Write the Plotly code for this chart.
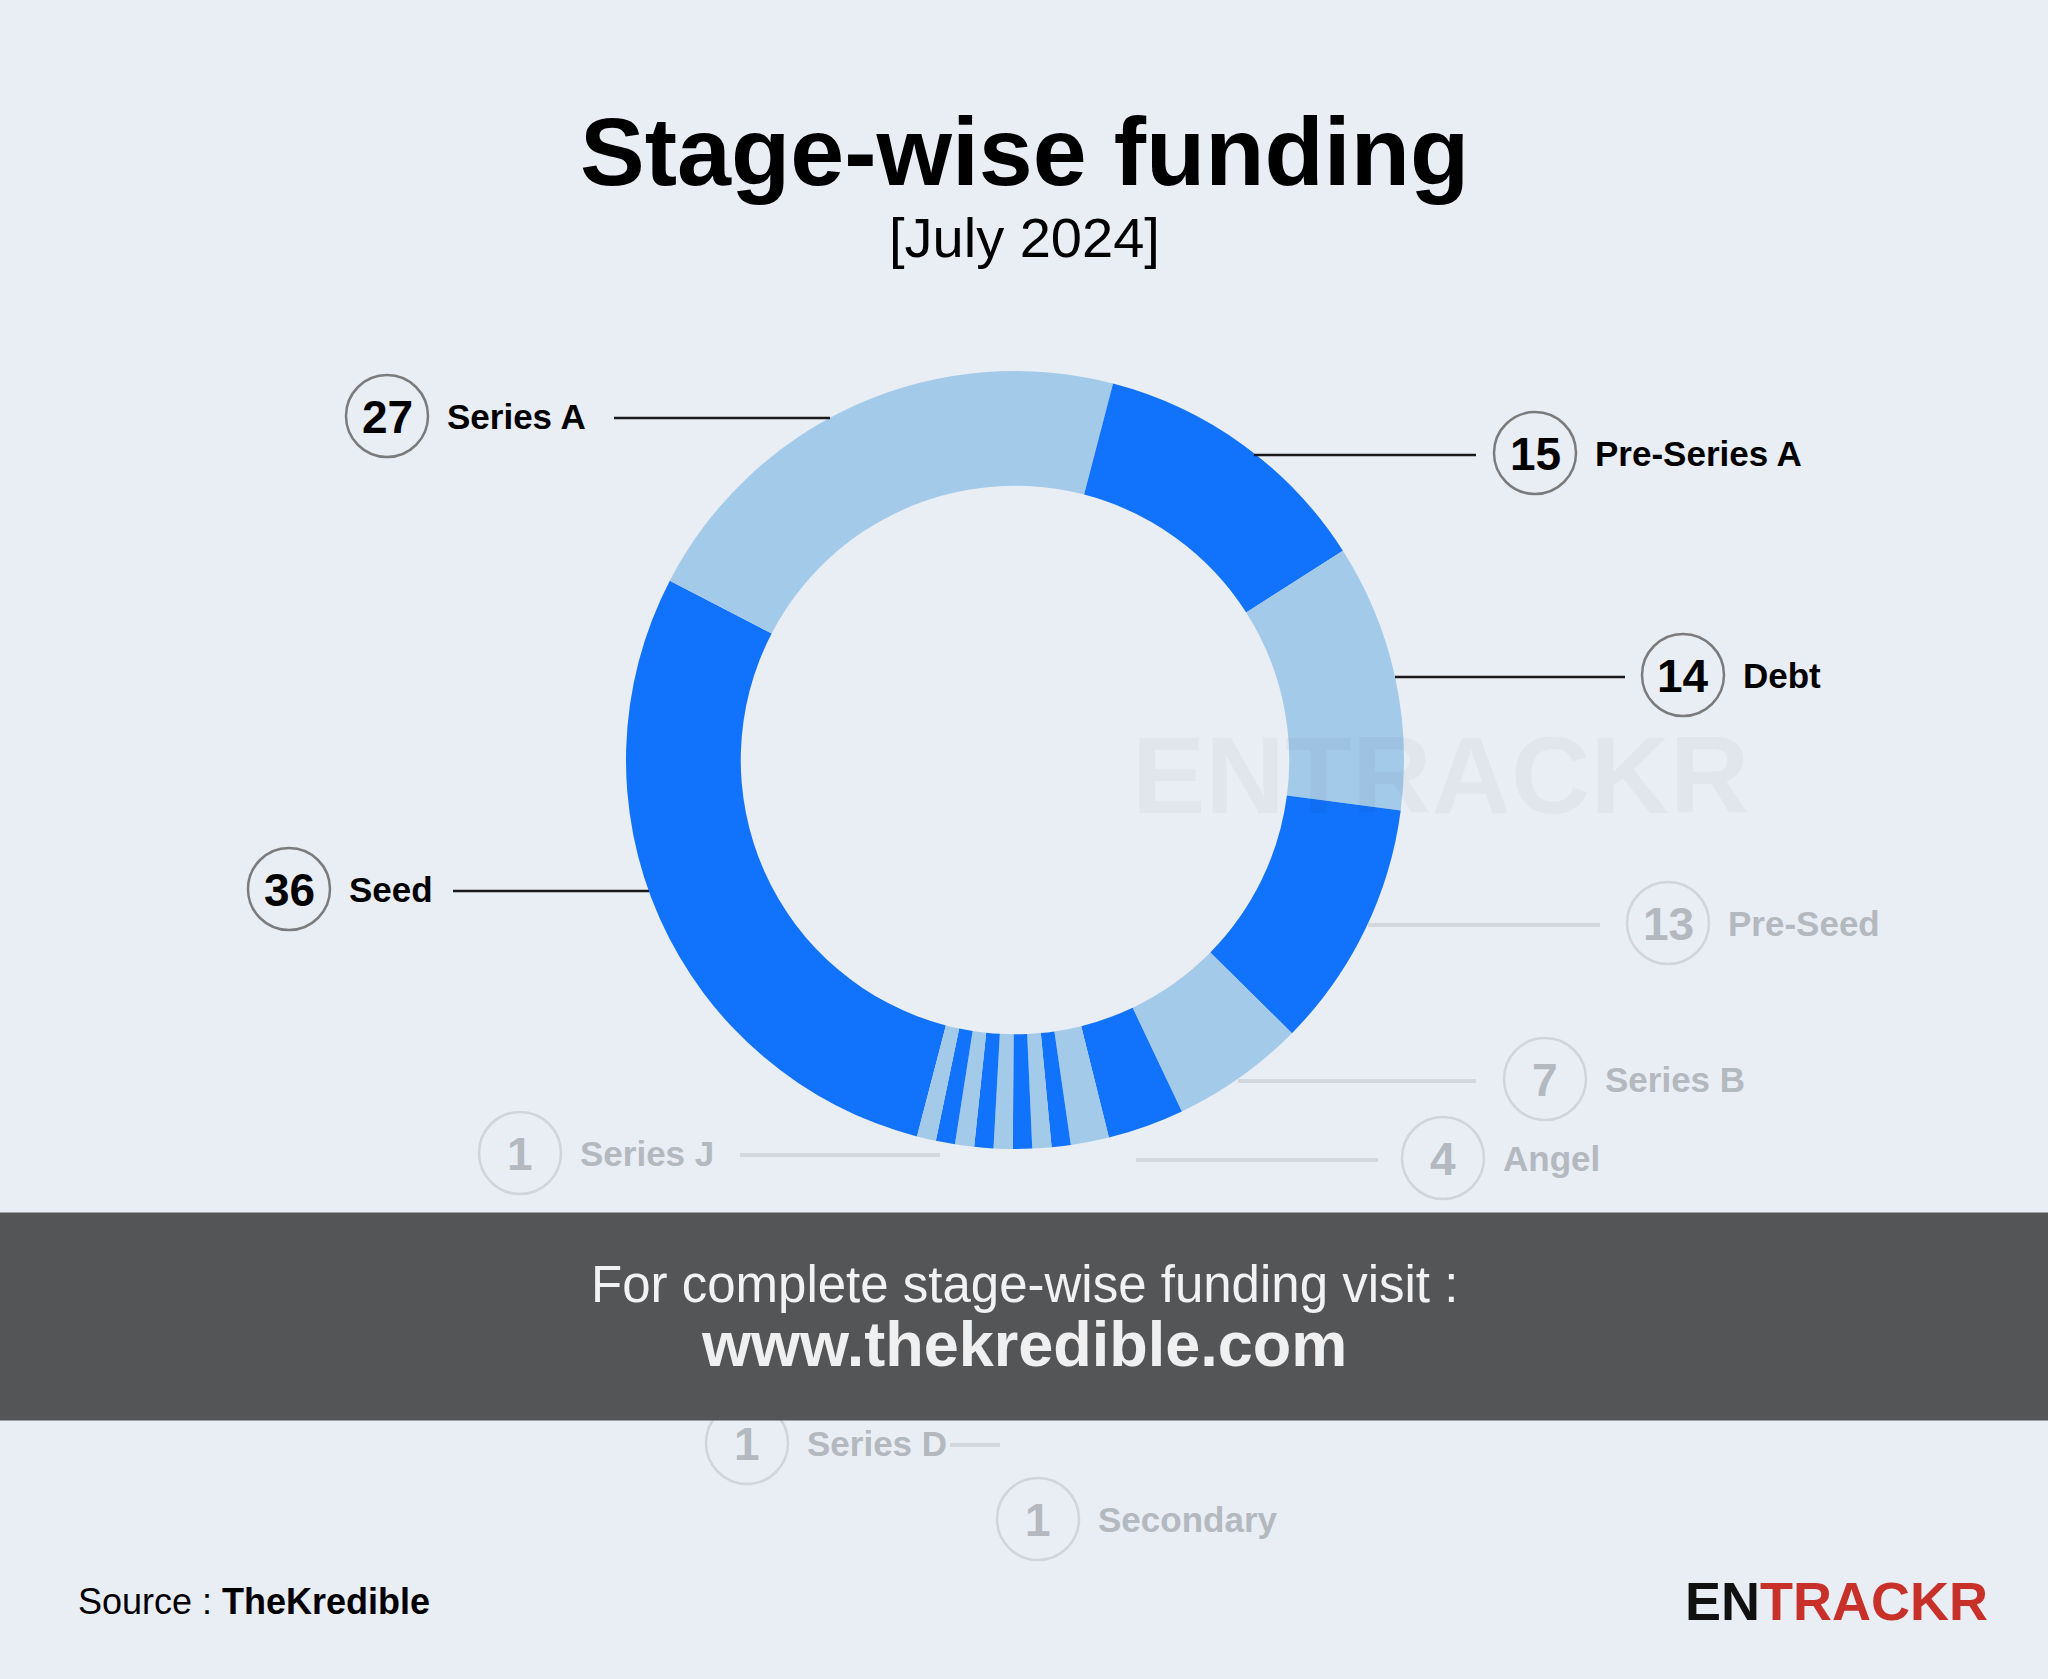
import plotly.graph_objects as go

W, H = 2048, 1679

# ---- data ----
stages = ["Seed", "Series A", "Pre-Series A", "Debt", "Pre-Seed", "Series B", "Angel",
          "Series C", "Pre-Series C", "Pre-Series B", "Secondary", "Series D",
          "Series E", "Series F", "Series H", "Series J"]
deals = [36, 27, 15, 14, 13, 7, 4, 2, 1, 1, 1, 1, 1, 1, 1, 1]

DARK = "#1172FB"
LIGHT = "#A4CAEA"
colors = [DARK if i % 2 == 0 else LIGHT for i in range(len(stages))]

BG = "#E9EDF4"
FONT = "Liberation Sans, Arial, sans-serif"

# donut geometry (pixels)
CX, CY, R = 1015, 760, 389


def px(x):
    return x / W


def py(y):
    return 1 - y / H


fig = go.Figure()
fig.add_trace(go.Pie(
    labels=stages, values=deals, sort=False, direction="clockwise",
    rotation=194.6, hole=0.705,
    marker=dict(colors=colors, line=dict(width=0)),
    textinfo="none", hoverinfo="label+value", showlegend=False,
    domain=dict(x=[px(CX - R), px(CX + R)], y=[py(CY + R), py(CY - R)]),
))

shapes = []
annotations = []

# watermark
annotations.append(dict(x=px(1440), y=py(774), xref="paper", yref="paper",
                        text="<b>ENTRACKR</b>", showarrow=False,
                        font=dict(family=FONT, size=110, color="rgba(0,0,0,0.03)"),
                        xanchor="center", yanchor="middle"))

# label layout: (stage, circle x, y, side, line x0, line x1, faint)
label_layout = [
    ("Series A", 387, 416, "left", 614, 830, False),
    ("Pre-Series A", 1535, 453, "right", 1254, 1476, False),
    ("Debt", 1683, 675, "right", 1395, 1625, False),
    ("Seed", 289, 889, "left", 453, 649, False),
    ("Pre-Seed", 1668, 923, "right", 1368, 1600, True),
    ("Series B", 1545, 1079, "right", 1238, 1476, True),
    ("Angel", 1443, 1158, "right", 1136, 1378, True),
    ("Series J", 520, 1153, "left", 740, 940, True),
    ("Series D", 747, 1443, "left", 950, 1000, True),
    ("Secondary", 1038, 1519, "right", 1020, 1020, True),
]

RC = 41
for name, cx, cy, side, lx0, lx1, faint in label_layout:
    val = deals[stages.index(name)]
    circ_col = "#D0D4DB" if faint else "#7B7B7B"
    txt_col = "#B4B8BF" if faint else "#000000"
    line_col = "#D3D7DE" if faint else "#1A1A1A"
    shapes.append(dict(type="circle", xref="paper", yref="paper",
                       x0=px(cx - RC), x1=px(cx + RC), y0=py(cy + RC), y1=py(cy - RC),
                       line=dict(color=circ_col, width=2.5), fillcolor="rgba(0,0,0,0)"))
    if lx1 > lx0:
        shapes.append(dict(type="line", xref="paper", yref="paper",
                           x0=px(lx0), x1=px(lx1), y0=py(cy + 2), y1=py(cy + 2),
                           line=dict(color=line_col, width=2.5 if not faint else 4)))
    annotations.append(dict(x=px(cx), y=py(cy + 1), xref="paper", yref="paper",
                            text=f"<b>{val}</b>", showarrow=False,
                            font=dict(family=FONT, size=46, color=txt_col),
                            xanchor="center", yanchor="middle"))
    annotations.append(dict(x=px(cx + RC + 17), y=py(cy), xref="paper", yref="paper",
                            text=f"<b>{name}</b>", showarrow=False,
                            font=dict(family=FONT, size=35, color=txt_col),
                            xanchor="left", yanchor="middle"))

# banner (annotation box so it sits above faint labels)
annotations.append(dict(x=0.5, y=py(1316.5), xref="paper", yref="paper",
                        text=" ", showarrow=False, width=W + 10, height=207,
                        bgcolor="rgba(78,80,82,0.97)", borderpad=0,
                        xanchor="center", yanchor="middle"))
annotations.append(dict(x=0.5, y=py(1284), xref="paper", yref="paper",
                        text="For complete stage-wise funding visit :", showarrow=False,
                        font=dict(family=FONT, size=51, color="#F2F2F2"),
                        xanchor="center", yanchor="middle"))
annotations.append(dict(x=0.5, y=py(1344), xref="paper", yref="paper",
                        text="<b>www.thekredible.com</b>", showarrow=False,
                        font=dict(family=FONT, size=63, color="#F0F0F0"),
                        xanchor="center", yanchor="middle"))

# titles
annotations.append(dict(x=0.5, y=py(152), xref="paper", yref="paper",
                        text="<b>Stage-wise funding</b>", showarrow=False,
                        font=dict(family=FONT, size=97, color="#000000"),
                        xanchor="center", yanchor="middle"))
annotations.append(dict(x=0.5, y=py(238), xref="paper", yref="paper",
                        text="[July 2024]", showarrow=False,
                        font=dict(family=FONT, size=56, color="#000000"),
                        xanchor="center", yanchor="middle"))

# footer
annotations.append(dict(x=px(76), y=py(1601), xref="paper", yref="paper",
                        text="Source : <b>TheKredible</b>", showarrow=False,
                        font=dict(family=FONT, size=36, color="#000000"),
                        xanchor="left", yanchor="middle"))
annotations.append(dict(x=px(1990), y=py(1601), xref="paper", yref="paper",
                        text="<b><span style='color:#111111'>EN</span>"
                             "<span style='color:#C8302A'>TRACKR</span></b>",
                        showarrow=False,
                        font=dict(family=FONT, size=54, color="#111111"),
                        xanchor="right", yanchor="middle"))

fig.update_layout(
    width=W, height=H, margin=dict(l=0, r=0, t=0, b=0),
    paper_bgcolor=BG, plot_bgcolor=BG,
    shapes=shapes, annotations=annotations, showlegend=False,
)

fig.write_html(
    "out.html", config={"displayModeBar": False},
    post_script="document.body.style.margin='0';document.body.style.background='%s';" % BG,
)
